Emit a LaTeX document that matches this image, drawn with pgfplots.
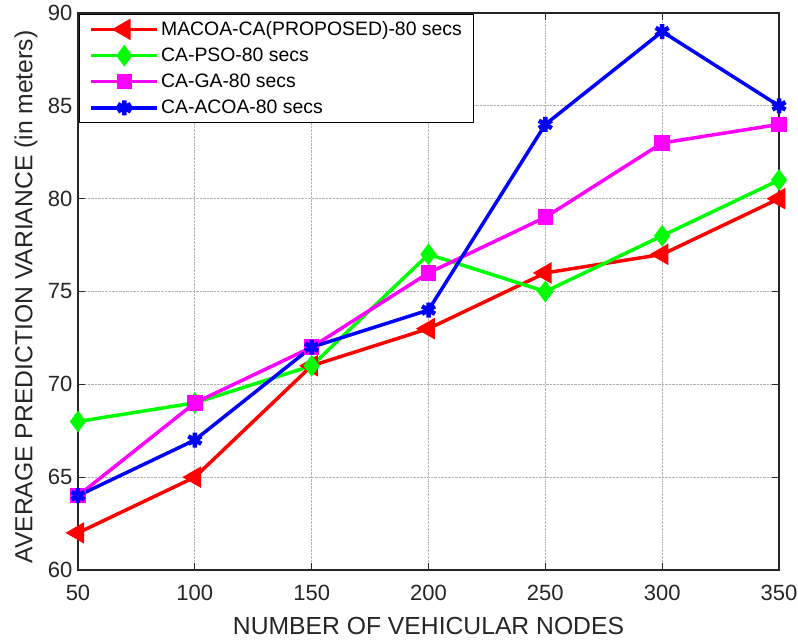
\documentclass[border=0pt]{standalone}
\usepackage{pgfplots}
\pgfplotsset{compat=1.18}
\usepackage{fontspec}
\setmainfont{Liberation Sans}
\definecolor{cRed}{RGB}{255,0,0}
\definecolor{cGreen}{RGB}{0,255,0}
\definecolor{cMag}{RGB}{255,0,255}
\definecolor{cBlue}{RGB}{0,0,255}
\begin{document}
\begin{tikzpicture}
\begin{axis}[
  at={(0,0)}, anchor=south west,
  scale only axis, width=701pt, height=557pt,
  xmin=50, xmax=350, ymin=60, ymax=90,
  xtick={50,100,...,350}, ytick={60,65,...,90},
  /pgf/number format/assume math mode=true,
  ticklabel style={font=\fontsize{22}{24}\selectfont, color=black!85},
  xticklabel style={yshift=-12pt},
  yticklabel style={xshift=-2pt},
  xlabel={NUMBER OF VEHICULAR NODES},
  ylabel={AVERAGE PREDICTION VARIANCE (in meters)},
  label style={font=\fontsize{24.7}{26}\selectfont, color=black!85},
  xlabel style={at={(axis description cs:0.5,-0.1158)}, anchor=base},
  ylabel style={at={(axis description cs:-0.065,0.49)}, anchor=base, rotate=0},
  grid=major,
  grid style={densely dotted, black!30, line width=0.8pt},
  axis line style={black!85, line width=1.2pt},
  tick style={black!85, line width=1pt},
  tick align=inside,
  major tick length=7pt,
  legend style={at={(0,1)}, anchor=north west, xshift=1pt, yshift=-1pt,
    font=\fontsize{19.4}{23}\selectfont, draw=black, line width=1.2pt,
    row sep=7pt, inner xsep=10pt, inner ysep=5pt},
  legend cell align=left,
  legend image code/.code={
    \draw[mark repeat=2,mark phase=2] plot coordinates {(0pt,0pt) (33pt,0pt) (66pt,0pt)};
  },
  every axis plot/.append style={line width=3.5pt},
]
\addplot[color=cRed, mark=triangle*, mark size=9pt, mark options={rotate=90, solid}]
  coordinates {(50,62) (100,65) (150,71) (200,73) (250,76) (300,77) (350,80)};
\addlegendentry{MACOA-CA(PROPOSED)-80 secs}
\addplot[color=cGreen, mark=diamond*, mark size=8pt, mark options={solid}]
  coordinates {(50,68) (100,69) (150,71) (200,77) (250,75) (300,78) (350,81)};
\addlegendentry{CA-PSO-80 secs}
\addplot[color=cMag, mark=square*, mark size=6pt, mark options={solid}]
  coordinates {(50,64) (100,69) (150,72) (200,76) (250,79) (300,83) (350,84)};
\addlegendentry{CA-GA-80 secs}
\addplot[color=cBlue, mark=asterisk, mark size=7.5pt, mark options={solid, line width=4.5pt}]
  coordinates {(50,64) (100,67) (150,72) (200,74) (250,84) (300,89) (350,85)};
\addlegendentry{CA-ACOA-80 secs}
\end{axis}
\pgfresetboundingbox
\path[use as bounding box] (-78pt,-70pt) rectangle (720pt,570pt);
\end{tikzpicture}
\end{document}
